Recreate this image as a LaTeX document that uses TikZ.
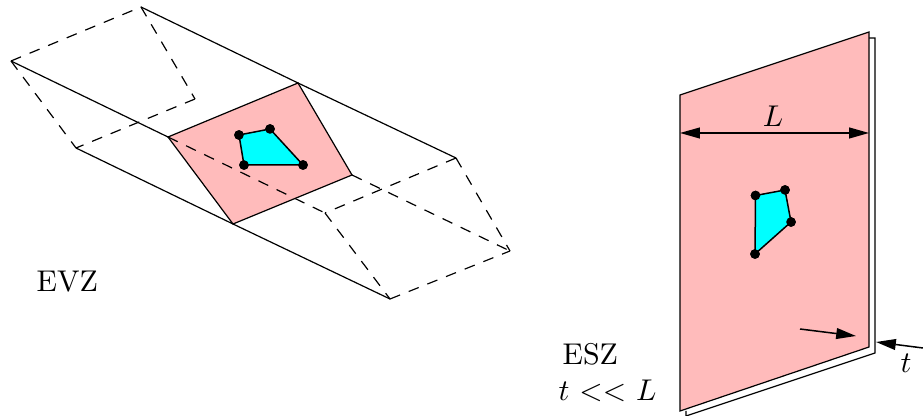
\documentclass[tikz,border=0pt]{standalone}
\usepackage{amsmath}
\usepackage{xcolor}
\usetikzlibrary{arrows.meta}
\definecolor{sheetpink}{HTML}{FFBBBB}
\definecolor{patchcyan}{HTML}{00FFFF}

\begin{document}
\begin{tikzpicture}[
    x=0.3333pt, y=-0.3333pt,
    edge/.style={draw, line width=0.4pt},
    hidden/.style={edge, dash pattern=on 3.6pt off 3.1pt},
    sheet/.style={edge, fill=sheetpink},
    patch/.style={draw, line width=0.5pt, fill=patchcyan},
    dot/.style={circle, fill=black, inner sep=0pt, minimum size=3.2pt},
    tip/.style={-{Triangle[length=6.6pt, width=3.6pt]}, line width=0.5pt},
    bothtip/.style={{Triangle[length=6.6pt, width=3.6pt]}-{Triangle[length=6.6pt, width=3.6pt]}, line width=0.5pt},
    label/.style={inner sep=0pt},
]
\useasboundingbox (0,0) rectangle (923,416);

% EVZ prism
\coordinate (back_l) at (11,61);
\coordinate (back_t) at (141,7);
\coordinate (back_b) at (76,148);
\coordinate (back_r) at (195,99);
\coordinate (mid_l) at (168,137);
\coordinate (mid_t) at (298,83);
\coordinate (mid_r) at (352,175);
\coordinate (mid_b) at (233,224);
\coordinate (front_t) at (456,158);
\coordinate (front_r) at (510,251);
\coordinate (front_b) at (390,299);
\coordinate (front_l) at (325,213);

\draw[sheet] (mid_l) -- (mid_t) -- (mid_r) -- (mid_b) -- cycle;

\draw[edge] (back_l) -- (mid_l);
\draw[edge] (back_t) -- (mid_t);
\draw[edge] (back_b) -- (mid_b);
\draw[edge] (mid_t) -- (front_t);
\draw[edge] (mid_b) -- (front_b);

\draw[hidden] (back_l) -- (back_t);
\draw[hidden] (back_t) -- (back_r);
\draw[hidden] (back_r) -- (back_b);
\draw[hidden] (back_l) -- (back_b);
\draw[hidden] (mid_l) -- (front_l);
\draw[hidden] (mid_r) -- (front_r);
\draw[hidden] (front_t) -- (front_l);
\draw[hidden] (front_l) -- (front_b);
\draw[hidden] (front_t) -- (front_r);
\draw[hidden] (front_b) -- (front_r);

% element on the middle face
\node[dot] (evz_a) at (239,135) {};
\node[dot] (evz_b) at (270,129) {};
\node[dot] (evz_c) at (303,165) {};
\node[dot] (evz_d) at (244,165) {};
\draw[patch] (evz_a.center) -- (evz_b.center) -- (evz_c.center) -- (evz_d.center) -- cycle;
\node[dot] at (evz_a) {};
\node[dot] at (evz_b) {};
\node[dot] at (evz_c) {};
\node[dot] at (evz_d) {};

\node[label, anchor=base west] (evz_label) at (36,292) {EVZ};

% ESZ sheet
\coordinate (rear_s) at (869,38);
\coordinate (rear_t) at (875,38);
\coordinate (rear_r) at (875,353);
\coordinate (rear_b) at (686,416);
\coordinate (rear_l) at (686,411);
\coordinate (sheet_a) at (680,95);
\coordinate (sheet_b) at (869,32);
\coordinate (sheet_c) at (869,347);
\coordinate (sheet_d) at (680,411);

\draw[edge] (rear_s) -- (rear_t) -- (rear_r) -- (rear_b) -- (rear_l);
\draw[sheet] (sheet_a) -- (sheet_b) -- (sheet_c) -- (sheet_d) -- cycle;

% element on the sheet
\node[dot] (esz_a) at (755.5,195.5) {};
\node[dot] (esz_b) at (785,190) {};
\node[dot] (esz_c) at (791,222) {};
\node[dot] (esz_d) at (755,254) {};
\draw[patch] (esz_a.center) -- (esz_b.center) -- (esz_c.center) -- (esz_d.center) -- cycle;
\node[dot] at (esz_a) {};
\node[dot] at (esz_b) {};
\node[dot] at (esz_c) {};
\node[dot] at (esz_d) {};

% L dimension
\coordinate (dim_l) at (680,133);
\coordinate (dim_r) at (869,133);
\draw[bothtip] (dim_l) -- (dim_r);
\node[label, anchor=base] (len_label) at (773,127) {$L$};

% t dimension
\coordinate (in_start) at (800,329);
\coordinate (in_tip) at (856,336);
\coordinate (out_start) at (923,348);
\coordinate (out_tip) at (876,342);
\draw[tip] (in_start) -- (in_tip);
\draw[tip] (out_start) -- (out_tip);
\node[label, anchor=base] (t_label) at (906,373) {$t$};

\node[label, anchor=base west] (esz_label) at (562,365) {ESZ};
\node[label, anchor=base west] (ratio_label) at (558,401) {$t$ $<<$ $L$};

\end{tikzpicture}
\end{document}
